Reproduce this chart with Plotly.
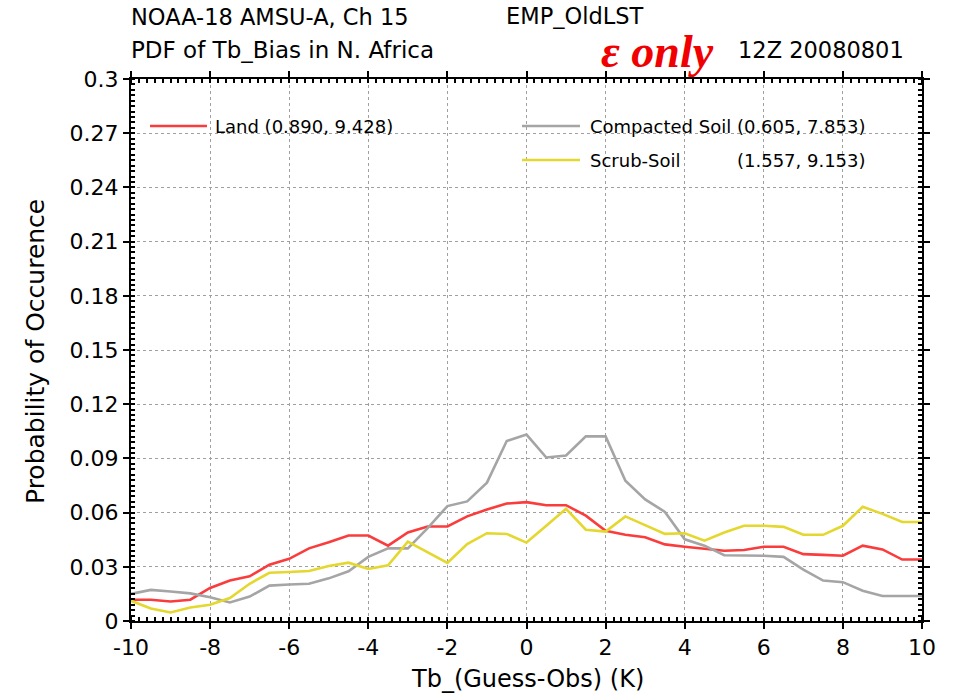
import plotly.graph_objects as go

# Tb bias bins (K)
tb_bins = [-10.0, -9.5, -9.0, -8.5, -8.0, -7.5, -7.0, -6.5, -6.0, -5.5, -5.0,
           -4.5, -4.0, -3.5, -3.0, -2.5, -2.0, -1.5, -1.0, -0.5, 0.0,
           0.5, 1.0, 1.5, 2.0, 2.5, 3.0, 3.5, 4.0, 4.5, 5.0,
           5.5, 6.0, 6.5, 7.0, 7.5, 8.0, 8.5, 9.0, 9.5, 10.0]

# probability of occurrence per surface type
pdf_land = [0.0118, 0.0118, 0.0108, 0.0118, 0.0183, 0.0224, 0.0247, 0.0312, 0.0344, 0.0402, 0.0436,
            0.0473, 0.0473, 0.0417, 0.0490, 0.0523, 0.0523, 0.0579, 0.0617, 0.0650, 0.0658,
            0.0641, 0.0641, 0.0583, 0.0499, 0.0477, 0.0464, 0.0424, 0.0411, 0.0398, 0.0389,
            0.0393, 0.0411, 0.0411, 0.0370, 0.0366, 0.0361, 0.0417, 0.0396, 0.0340, 0.0340]
pdf_compacted = [0.0150, 0.0172, 0.0163, 0.0153, 0.0131, 0.0103, 0.0135, 0.0196, 0.0202, 0.0206, 0.0236,
                 0.0275, 0.0355, 0.0402, 0.0402, 0.0514, 0.0636, 0.0662, 0.0766, 0.0996, 0.1032,
                 0.0905, 0.0916, 0.1022, 0.1022, 0.0776, 0.0673, 0.0604, 0.0452, 0.0417, 0.0364,
                 0.0364, 0.0361, 0.0355, 0.0284, 0.0224, 0.0215, 0.0168, 0.0138, 0.0138, 0.0138]
pdf_scrub = [0.0112, 0.0069, 0.0047, 0.0075, 0.0090, 0.0127, 0.0206, 0.0267, 0.0271, 0.0277, 0.0305,
             0.0323, 0.0288, 0.0308, 0.0439, 0.0379, 0.0321, 0.0426, 0.0486, 0.0482, 0.0434,
             0.0527, 0.0621, 0.0505, 0.0495, 0.0579, 0.0529, 0.0482, 0.0486, 0.0445, 0.0490,
             0.0527, 0.0527, 0.0521, 0.0477, 0.0477, 0.0527, 0.0632, 0.0593, 0.0548, 0.0548]

series_names = ["Land", "Compacted Soil", "Scrub-Soil"]
series_stats = ["(0.890, 9.428)", "(0.605, 7.853)", "(1.557, 9.153)"]
series_colors = ["rgb(250,60,60)", "rgb(165,165,165)", "rgb(228,215,45)"]

x_ticks = [-10, -8, -6, -4, -2, 0, 2, 4, 6, 8, 10]
y_ticks = [0, 0.03, 0.06, 0.09, 0.12, 0.15, 0.18, 0.21, 0.24, 0.27, 0.3]
y_tick_text = ["0", "0.03", "0.06", "0.09", "0.12", "0.15", "0.18", "0.21", "0.24", "0.27", "0.3"]

W, H = 954, 698
L, R, T, B = 131, 922, 79, 621
FONT = "DejaVu Sans"


def px(xp):
    return (xp - L) / (R - L)


def py(yp):
    return (B - yp) / (B - T)


fig = go.Figure()
for name, vals, col in zip(series_names, [pdf_land, pdf_compacted, pdf_scrub], series_colors):
    fig.add_trace(go.Scatter(x=tb_bins, y=vals, mode="lines", name=name,
                             line=dict(color=col, width=2.6), showlegend=False))

axis_common = dict(
    showline=True, linecolor="black", linewidth=2, mirror="allticks",
    ticks="outside", ticklen=6, tickwidth=1.5, tickcolor="black",
    showgrid=True, gridcolor="rgb(160,160,160)", griddash="dot", gridwidth=1.3,
    zeroline=False,
    tickfont=dict(family=FONT, size=22, color="black"),
)

fig.update_xaxes(range=[-10, 10], tickvals=x_ticks, ticktext=[str(v) for v in x_ticks],
                 minor=dict(ticks="inside", ticklen=4, dtick=0.2, tickcolor="black", showgrid=False),
                 **axis_common)
fig.update_yaxes(range=[0, 0.3], tickvals=y_ticks, ticktext=y_tick_text,
                 minor=dict(ticks="inside", ticklen=4, dtick=0.003, tickcolor="black", showgrid=False),
                 **axis_common)

ann = []


def text(xp, yp, s, size, color="black", family=FONT, xanchor="left", **kw):
    ann.append(dict(x=px(xp), y=py(yp), xref="paper", yref="paper", text=s, showarrow=False,
                    xanchor=xanchor, yanchor="middle",
                    font=dict(family=family, size=size, color=color), **kw))


# header lines
text(129, 17, "NOAA-18 AMSU-A, Ch 15", 22.5)
text(504, 16, "EMP_OldLST", 22.5)
text(129, 50, "PDF of Tb_Bias in N. Africa", 23)
text(736, 50, "12Z 20080801", 22.5)
text(599, 52, "<b><i>ε only</i></b>", 46, color="rgb(240,0,0)", family="Liberation Serif")

# axis titles
text(527, 679, "Tb_(Guess-Obs) (K)", 24, xanchor="center")
text(35, 352, "Probability of Occurence", 25, xanchor="center", textangle=-90)

# legend entries
shapes = []
legend_pos = [(150, 207, 126, 213, None), (522, 580, 126, 588, None), (522, 580, 160, 588, 735)]
for (x0, x1, yl, xt, xs), name, stat, col in zip(legend_pos, series_names, series_stats, series_colors):
    shapes.append(dict(type="line", xref="paper", yref="paper", x0=px(x0), x1=px(x1),
                       y0=py(yl), y1=py(yl), line=dict(color=col, width=2.6)))
    if xs is None:
        text(xt, yl, f"{name} {stat}", 18)
    else:
        text(xt, yl, name, 18)
        text(xs, yl, stat, 18)

fig.update_layout(
    width=W, height=H,
    margin=dict(l=L, r=W - R, t=T, b=H - B),
    paper_bgcolor="white", plot_bgcolor="white",
    annotations=ann, shapes=shapes,
)

fig.write_html("out.html")
